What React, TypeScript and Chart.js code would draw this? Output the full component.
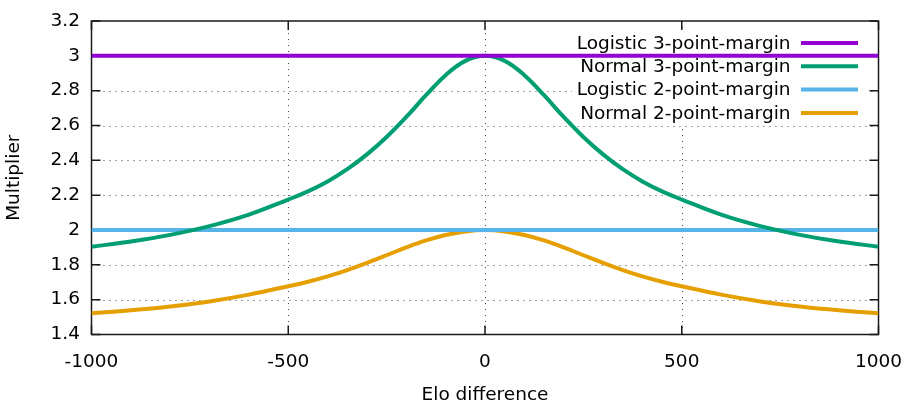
import React, { useEffect, useRef } from "react";
import { Chart, registerables } from "chart.js";

Chart.register(...registerables);

const eloDiff = [-1000, -900, -800, -700, -600, -500, -450, -400, -350, -300, -250, -200, -150, -100, -50, 0, 50, 100, 150, 200, 250, 300, 350, 400, 450, 500, 600, 700, 800, 900, 1000];
const normal3 = [1.904, 1.934, 1.972, 2.022, 2.088, 2.175, 2.222, 2.279, 2.349, 2.434, 2.534, 2.649, 2.774, 2.889, 2.971, 3.0, 2.971, 2.889, 2.774, 2.649, 2.534, 2.434, 2.349, 2.279, 2.222, 2.175, 2.088, 2.022, 1.972, 1.934, 1.904];
const normal2 = [1.522, 1.539, 1.561, 1.59, 1.629, 1.677, 1.703, 1.734, 1.77, 1.811, 1.855, 1.9, 1.94, 1.971, 1.992, 2.0, 1.992, 1.971, 1.94, 1.9, 1.855, 1.811, 1.77, 1.734, 1.703, 1.677, 1.629, 1.59, 1.561, 1.539, 1.522];
const logisticX = [-1000, 1000];
const logistic3 = [3, 3];
const logistic2 = [2, 2];

const seriesLabels = ["Logistic 3-point-margin", "Normal 3-point-margin", "Logistic 2-point-margin", "Normal 2-point-margin"];
const seriesColors = ["#9400d3", "#009e73", "#56b4e9", "#e69f00"];
const xTicks = [-1000, -500, 0, 500, 1000];
const yTicks = [1.4, 1.6, 1.8, 2.0, 2.2, 2.4, 2.6, 2.8, 3.0, 3.2];
const xTitle = "Elo difference";
const yTitle = "Multiplier";

const FONT_SIZE = 18.5;
const FONT = FONT_SIZE + "px 'DejaVu Sans'";

const framePlugin = {
  id: "gnuplotFrame",
  beforeDatasetsDraw(chart: any) {
    const { ctx, chartArea: a, scales } = chart;
    const xs = scales.x, ys = scales.y;
    ctx.save();
    // dotted grid
    ctx.strokeStyle = "#444";
    ctx.lineWidth = 1;
    ctx.setLineDash([1, 5]);
    xTicks.slice(1, -1).forEach((v) => {
      const px = Math.round(xs.getPixelForValue(v)) + 0.5;
      ctx.beginPath();
      ctx.moveTo(px, a.top);
      ctx.lineTo(px, a.bottom);
      ctx.stroke();
    });
    yTicks.slice(1, -1).forEach((v) => {
      const py = Math.round(ys.getPixelForValue(v)) + 0.5;
      ctx.beginPath();
      ctx.moveTo(a.left, py);
      ctx.lineTo(a.right, py);
      ctx.stroke();
    });
    ctx.setLineDash([]);
    // frame
    ctx.strokeStyle = "#1a1a1a";
    ctx.lineWidth = 1.5;
    ctx.strokeRect(a.left, a.top, a.right - a.left, a.bottom - a.top);
    // inward ticks
    const tl = 9;
    yTicks.forEach((v) => {
      const py = ys.getPixelForValue(v);
      ctx.beginPath();
      ctx.moveTo(a.left, py);
      ctx.lineTo(a.left + tl, py);
      ctx.moveTo(a.right, py);
      ctx.lineTo(a.right - tl, py);
      ctx.stroke();
    });
    xTicks.forEach((v) => {
      const px = xs.getPixelForValue(v);
      ctx.beginPath();
      ctx.moveTo(px, a.bottom);
      ctx.lineTo(px, a.bottom - tl);
      ctx.moveTo(px, a.top);
      ctx.lineTo(px, a.top + tl);
      ctx.stroke();
    });
    // opaque key
    const keyRight = a.right - 11;
    const textRight = 790.5;
    const lineX0 = 801;
    const lineX1 = 858;
    const rowY0 = a.top + 22;
    const rowH = 23.3;
    ctx.fillStyle = "#fff";
    ctx.fillRect(572, rowY0 - 12, keyRight - 572, rowH * 4);
    ctx.font = FONT;
    ctx.textAlign = "right";
    ctx.textBaseline = "middle";
    seriesLabels.forEach((lab, i) => {
      const y = rowY0 + i * rowH;
      ctx.fillStyle = "#000";
      ctx.fillText(lab, textRight, y + 1);
      ctx.strokeStyle = seriesColors[i];
      ctx.lineWidth = 4;
      ctx.beginPath();
      ctx.moveTo(lineX0, y);
      ctx.lineTo(lineX1, y);
      ctx.stroke();
    });
    ctx.restore();
  },
  afterDraw(chart: any) {
    const { ctx, chartArea: a } = chart;
    ctx.save();
    ctx.font = FONT;
    ctx.fillStyle = "#000";
    ctx.textAlign = "center";
    ctx.textBaseline = "middle";
    ctx.fillText(xTitle, (a.left + a.right) / 2, 395);
    ctx.translate(14, (a.top + a.bottom) / 2);
    ctx.rotate(-Math.PI / 2);
    ctx.fillText(yTitle, 0, 0);
    ctx.restore();
  },
};

export default function App() {
  const canvasRef = useRef<HTMLCanvasElement | null>(null);

  useEffect(() => {
    document.body.style.margin = "0";
    const canvas = canvasRef.current;
    if (!canvas) return;
    const mk = (xv: number[], yv: number[]) => xv.map((x, i) => ({ x, y: yv[i] }));
    const tickFont = { family: "'DejaVu Sans'", size: FONT_SIZE };
    const chart = new Chart(canvas, {
      type: "line",
      data: {
        datasets: [
          { label: seriesLabels[0], data: mk(logisticX, logistic3), borderColor: seriesColors[0], borderWidth: 4, pointRadius: 0 },
          { label: seriesLabels[1], data: mk(eloDiff, normal3), borderColor: seriesColors[1], borderWidth: 4, pointRadius: 0, tension: 0.4 },
          { label: seriesLabels[2], data: mk(logisticX, logistic2), borderColor: seriesColors[2], borderWidth: 4, pointRadius: 0 },
          { label: seriesLabels[3], data: mk(eloDiff, normal2), borderColor: seriesColors[3], borderWidth: 4, pointRadius: 0, tension: 0.4 },
        ],
      },
      options: {
        animation: false,
        responsive: false,
        layout: { padding: { top: 21, right: 33.5, left: 0, bottom: 0 } },
        plugins: { legend: { display: false }, tooltip: { enabled: false } },
        scales: {
          x: {
            type: "linear",
            min: -1000,
            max: 1000,
            afterFit: (s: any) => { s.height = 72.5; s.paddingLeft = 0; s.paddingRight = 0; },
            afterBuildTicks: (s: any) => { s.ticks = xTicks.map((v) => ({ value: v })); },
            grid: { display: false, drawTicks: false },
            border: { display: false },
            ticks: { padding: 17, color: "#000", font: tickFont, maxRotation: 0, autoSkip: false, callback: (v: any) => String(v) },
          },
          y: {
            type: "linear",
            min: 1.4,
            max: 3.2,
            afterFit: (s: any) => { s.width = 91.5; s.paddingTop = 0; s.paddingBottom = 0; },
            afterBuildTicks: (s: any) => { s.ticks = yTicks.map((v) => ({ value: v })); },
            grid: { display: false, drawTicks: false },
            border: { display: false },
            ticks: { padding: 11.5, color: "#000", font: tickFont, autoSkip: false, callback: (v: any) => String(Math.round(Number(v) * 10) / 10) },
          },
        },
      },
      plugins: [framePlugin],
    });
    return () => chart.destroy();
  }, []);

  return (
    <div style={{ position: "absolute", left: 0, top: 0, width: 912, height: 407 }}>
      <canvas ref={canvasRef} width={912} height={407} style={{ width: 912, height: 407, display: "block" }} />
    </div>
  );
}
